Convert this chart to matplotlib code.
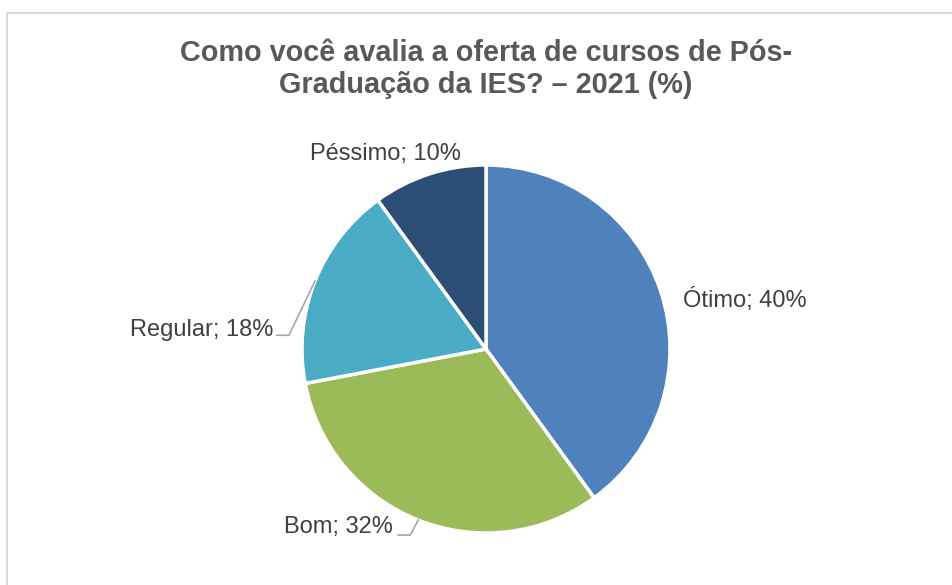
import numpy as np
import matplotlib
matplotlib.use('Agg')
import matplotlib.pyplot as plt

plt.rcParams['font.family'] = ['Liberation Sans', 'DejaVu Sans']

# Data
categories = ['Ótimo', 'Bom', 'Regular', 'Péssimo']
values = [40, 32, 18, 10]
colors = ['#4F81BD', '#9BBB59', '#4BACC6', '#2C4D75']
title = 'Como você avalia a oferta de cursos de Pós-\nGraduação da IES? – 2021 (%)'

W, H = 953, 585
fig = plt.figure(figsize=(W / 100, H / 100), dpi=100)
ax = fig.add_axes([0, 0, 1, 1])

# chart frame (only left/top visible in crop)
ax.plot([7.5, 7.5, W], [0, H - 12.5, H - 12.5], color='#D9D9D9', lw=1.5)

cx, cy, r = 486, H - 349, 184
wedges, _ = ax.pie(values, colors=colors, startangle=90, counterclock=False,
                   center=(cx, cy), radius=r, frame=True,
                   wedgeprops=dict(edgecolor='white', linewidth=2.5))
ax.set_xlim(0, W)
ax.set_ylim(0, H)
ax.set_aspect('equal')
ax.axis('off')

label_color = '#404040'
fs = 17
for w, cat, v in zip(wedges, categories, values):
    mid = np.deg2rad((w.theta1 + w.theta2) / 2)
    ex, ey = cx + r * np.cos(mid), cy + r * np.sin(mid)
    txt = '{}; {}%'.format(cat, v)
    if cat == 'Ótimo':
        ax.text(ex + 22, ey - 8, txt, ha='left', va='center', fontsize=fs, color=label_color)
    elif cat == 'Péssimo':
        ax.text(ex + 32, ey + 20, txt, ha='right', va='center', fontsize=fs, color=label_color)
    elif cat == 'Regular':
        ax.plot([ex, ex - 26, ex - 38], [ey, ey - 54, ey - 54], color='#A6A6A6', lw=1.2)
        ax.text(ex - 42, ey - 49, txt, ha='right', va='center', fontsize=fs, color=label_color)
    else:
        ax.plot([ex, ex - 8, ex - 20], [ey, ey - 15, ey - 15], color='#A6A6A6', lw=1.2)
        ax.text(ex - 25, ey - 7, txt, ha='right', va='center', fontsize=fs, color=label_color)

ax.text(486, H - 69, title, ha='center', va='center', fontsize=20.8,
        fontweight='bold', color='#595959', linespacing=1.2)

fig.savefig('out.png', dpi=100, facecolor='white')
